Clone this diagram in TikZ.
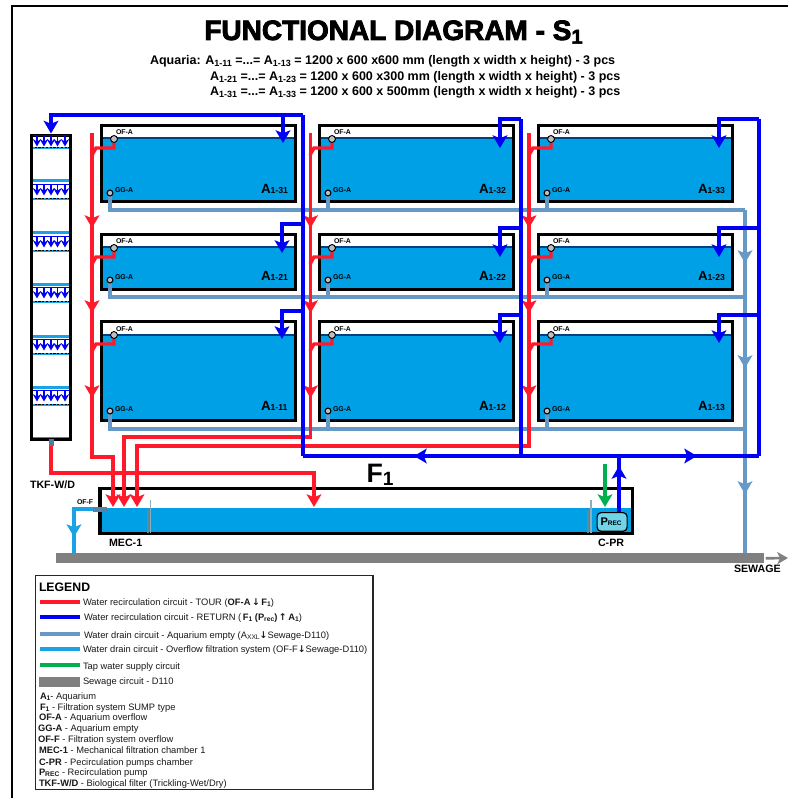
\documentclass[tikz,border=0pt]{standalone}
\usepackage{fontspec}
\setmainfont{Liberation Sans}
\newfontfamily\titlef[FakeBold=3]{Liberation Sans Bold}
\newfontfamily\arrowf{DejaVu Sans}
\usetikzlibrary{arrows.meta,calc}
\definecolor{pipered}{HTML}{FF1A2B}
\definecolor{pipeblue}{HTML}{0000F5}
\definecolor{pipedrain}{HTML}{6699C6}
\definecolor{pipecyan}{HTML}{1AA3E4}
\definecolor{pipegreen}{HTML}{00B04F}
\definecolor{water}{HTML}{00A0E6}
\definecolor{surface}{HTML}{003F80}
\definecolor{sewer}{HTML}{808080}
\definecolor{baffle}{HTML}{5E8C9E}
\definecolor{pumpfill}{HTML}{70D5E8}
\pgfdeclarelayer{tankL}\pgfdeclarelayer{drainL}\pgfdeclarelayer{redL}\pgfdeclarelayer{blueL}
\pgfsetlayers{tankL,drainL,redL,blueL,main}
\newcommand\subs[1]{\raisebox{-0.25ex}{\scalebox{0.72}{#1}}}
\newcommand\fs[1]{\fontsize{#1}{#1}\selectfont}
\newcommand\dn{{\arrowf\textbf{↓}}}
\newcommand\up{{\arrowf\textbf{↑}}}
\tikzset{
  tankbox/.style={draw=black,line width=2.4pt,inner sep=0,outer sep=0,anchor=north west},
  bigtip/.style={-{Stealth[length=9.5pt,width=11pt,inset=2.2pt]}},
  redpipe/.style={draw=pipered,line width=2.6pt},
  bluepipe/.style={draw=pipeblue,line width=2.6pt},
  drainpipe/.style={draw=pipedrain,line width=2.3pt},
  cyanpipe/.style={draw=pipecyan,line width=2.3pt},
  ofdot/.style={circle,draw=black,fill=black!25,line width=0.7pt,minimum size=5.2pt,inner sep=0},
  ggdot/.style={circle,draw=black,fill=black!25,line width=0.8pt,minimum size=4.4pt,inner sep=0},
  txt/.style={anchor=base west,inner sep=0,outer sep=0,text=black},
  ctxt/.style={anchor=base,inner sep=0,outer sep=0,text=black},
  legline/.style={line width=2.4pt},
  smallarrow/.style={draw=pipeblue,line width=1.2pt,-{Stealth[length=5.5pt,width=6.2pt,inset=1.8pt]}},
}
\begin{document}
\begin{tikzpicture}[x=0.75pt,y=-0.75pt]
\useasboundingbox (0,0) rectangle (788,798);
% frame
\draw[black,line width=1.5pt] (788,6) -- (11.5,6) -- (11.5,798);
% title
\node[ctxt] (title) at (393.5,40) {\titlef\fs{21}FUNCTIONAL DIAGRAM - S\subs{1}};
\node[txt] (sub1) at (150,65) {\fs{9.38}\textbf{Aquaria: A\subs{1-11} =...= A\subs{1-13} = 1200 x 600 x600 mm (length x width x height) - 3 pcs}};
\node[txt] (sub2) at (210,81) {\fs{9.38}\textbf{A\subs{1-21} =...= A\subs{1-23} = 1200 x 600 x300 mm (length x width x height) - 3 pcs}};
\node[txt] (sub3) at (210,96) {\fs{9.38}\textbf{A\subs{1-31} =...= A\subs{1-33} = 1200 x 600 x 500mm (length x width x height) - 3 pcs}};
% tanks
\foreach \r/\yt/\yb/\yw/\yo/\yg/\yl in {3/124/203/138/139/193/194,2/233/291/247/248/280/281,1/320/422/334/335/411/410}{
 \foreach \c/\xl in {1/100,2/318,3/537}{
  \pgfmathsetmacro\hh{(\yb-\yt-3)*0.75}
  \begin{pgfonlayer}{tankL}
   \fill[water] (\xl+2,\yw) rectangle (\xl+196,\yb-2);
   \draw[surface,line width=1.5pt] (\xl+2,\yw+0.5) -- (\xl+196,\yw+0.5);
   \node[tankbox,minimum width=145.5pt,minimum height=\hh pt] (tank\r\c) at (\xl+1.5,\yt+1.5) {};
  \end{pgfonlayer}
  \node[ofdot] (of\r\c) at (\xl+14,\yo) {};
  \node[ggdot] (gg\r\c) at (\xl+10,\yg) {};
  \node[txt] (oft\r\c) at (\xl+16,\yo-4) {\fs{5.2}\textbf{OF-A}};
  \node[txt] (ggt\r\c) at (\xl+15,\yg) {\fs{5.2}\textbf{GG-A}};
  \node[txt] (lab\r\c) at (\xl+161,\yl) {\fs{10}\textbf{A}\fs{6.5}\textbf{1-\r\c}};
  \begin{pgfonlayer}{redL}
   \draw[redpipe,line join=miter] (of\r\c.center) -- ++(0,9) -- (\xl-4,\yo+9) -- (\xl-8,\yo+16);
  \end{pgfonlayer}
 }
}
% drain
\coordinate (drain3) at (745,210);
\coordinate (drain2) at (745,297);
\coordinate (drain1) at (745,429);
\coordinate (sewin) at (745,553);
\begin{pgfonlayer}{drainL}
 \foreach \r in {3,2,1}{\foreach \c in {1,2,3}{\draw[drainpipe] (gg\r\c.center) |- (drain\r);}}
 \draw[drainpipe] (drain3) -- (sewin);
\end{pgfonlayer}
\foreach \t in {263,368,494}{
 \begin{pgfonlayer}{blueL}\draw[drainpipe,bigtip] (745,\t-12) -- (745,\t);\end{pgfonlayer}}
% TKF
\begin{pgfonlayer}{tankL}
 \fill[water] (31,437) rectangle (71,441);
 \foreach \ya/\yb in {181/199,233/251,284/302,336/354,387/405}{
  \fill[pipecyan] (31,\ya-1.5) rectangle (71,\ya+1.5);
  \draw[pipecyan,line width=1.5pt] (31,\yb) -- (71,\yb);
  \draw[black,line width=1.2pt,dash pattern=on 1.6pt off 1.2pt] (31,\yb-0.6) -- (71,\yb-0.6);
 }
 \draw[pipecyan,line width=1.5pt] (31,148) -- (71,148);
 \draw[black,line width=1.2pt,dash pattern=on 1.6pt off 1.2pt] (31,147.4) -- (71,147.4);
 \node[tankbox,line width=2pt,minimum width=29.5pt,minimum height=228pt] (tkf) at (31.3,135.3) {};
\end{pgfonlayer}
\foreach \yt in {135,184,236,287,339,390}{
 \foreach \x in {37,44,51,57.5,65}{\draw[smallarrow] (\x,\yt) -- (\x,\yt+11.5);}
 \draw[pipeblue,line width=0.8pt] (33,\yt+0.5) -- (69,\yt+0.5);
}
\fill[pipedrain!80!black] (49,439) rectangle (54,446);
% sump
\begin{pgfonlayer}{tankL}
 \fill[water] (100,508) rectangle (631,534);
 \node[tankbox,minimum width=399.5pt,minimum height=34pt] (sump) at (100,488.5) {};
 \draw[baffle,line width=0.9pt] (148,510) -- (148,533);
 \draw[baffle!70!white,line width=1pt] (150.5,500) -- (150.5,533);
 \draw[baffle,line width=0.9pt] (588,510) -- (588,533);
 \draw[baffle!70!white,line width=1pt] (591,500) -- (591,533);
\end{pgfonlayer}
\node[draw=black,fill=pumpfill,rounded corners=3pt,line width=0.9pt,minimum width=22.5pt,minimum height=14pt,inner sep=0,anchor=north west] (pump) at (596.5,512) {};
\node[txt] (pumpt) at (600.5,525.5) {\fs{8.3}\textbf{P}\fs{4.9}\textbf{REC}};
% labels
\node[ctxt] (f1) at (380,482) {\fs{20}\textbf{F\subs{1}}};
\node[txt] (ltkf) at (30,488.5) {\fs{8}\textbf{TKF-W/D}};
\node[txt] (lmec) at (109,546.5) {\fs{8}\textbf{MEC-1}};
\node[txt] (lcpr) at (598,546.5) {\fs{8}\textbf{C-PR}};
\node[txt] (lsew) at (734,572.5) {\fs{8}\textbf{SEWAGE}};
\node[txt] (lof) at (77,504) {\fs{5.2}\textbf{OF-F}};
% sewage bar
\node[fill=sewer,minimum width=531pt,minimum height=7.5pt,inner sep=0,anchor=north west] (sewage) at (56,553) {};
\coordinate (sewend) at (788,558);
\draw[sewer,line width=2pt,-{Stealth[length=8pt,width=9pt,inset=2pt]}] (sewage.east) ++(1,0) -- (sewend);
% overflow
\coordinate (ofout) at (93,509);
\coordinate (ofturn) at (74,509);
\coordinate (ofbar) at (74,553);
\coordinate (oftip) at (74,537);
\draw[cyanpipe] (ofout) -- (ofturn) -- (ofbar);
\draw[cyanpipe,bigtip] (74,525) -- (oftip);
\fill[pipedrain!85!black] (93,507) rectangle (107,511.5);
% red
\begin{pgfonlayer}{redL}
 \foreach \x in {92,310.5,529}{
  \foreach \t in {228,313,398}{\draw[redpipe,bigtip] (\x,\t-12) -- (\x,\t);}
 }
 \coordinate (inA) at (113,507);
 \coordinate (inB) at (124,507);
 \coordinate (inC) at (137,507);
 \coordinate (inD) at (314,507);
 \draw[redpipe,bigtip] (92,133) |- (113,457) -- (inA);
 \draw[redpipe,bigtip] (310.5,133) |- (124,437) -- (inB);
 \draw[redpipe,bigtip] (529,133) |- (137,446) -- (inC);
 \draw[redpipe,bigtip] (51,443) |- (314,473) -- (inD);
\end{pgfonlayer}
% blue
\begin{pgfonlayer}{blueL}
 \coordinate (pumpout) at (619,512);
 \coordinate (busT) at (619,456);
 \draw[bluepipe] (pump.north -| pumpout) -- (busT);
 \draw[bluepipe,bigtip] (619,477) -- (619,466);
 \draw[bluepipe] (303,456) -- (759,456);
 \draw[bluepipe,bigtip] (680,456) -- (697,456);
 \draw[bluepipe,bigtip] (430,456) -- (414,456);
 \draw[bluepipe] (303,456) -- (303,115);
 \draw[bluepipe] (521,456) -- (521,119);
 \draw[bluepipe] (759,456) -- (759,119);
 \draw[bluepipe,bigtip] (303,115) -| (51,133.5);
 \draw[bluepipe,bigtip] (283,115) -- (283,143);
 \draw[bluepipe,bigtip] (303,224) -| (282,253);
 \draw[bluepipe,bigtip] (303,311) -| (282,339);
 \foreach \rx/\tx in {521/500,759/719}{
  \draw[bluepipe,bigtip] (\rx,119) -| (\tx,148);
  \draw[bluepipe,bigtip] (\rx,228) -| (\tx,257);
  \draw[bluepipe,bigtip] (\rx,315) -| (\tx,343);
 }
\end{pgfonlayer}
% green
\coordinate (tapin) at (605,464);
\coordinate (tapout) at (605,507);
\draw[draw=pipegreen,line width=2.6pt,bigtip] (tapin) -- (tapout);
% legend
\node[draw=black!85,line width=1.1pt,fill=white,minimum width=253pt,minimum height=160.5pt,inner sep=0,outer sep=0,anchor=north west] (legend) at (35.5,575.5) {};
\node[txt] (legt) at (39,591) {\fs{9.2}\textbf{LEGEND}};
\draw[pipered,legline] (40,602) -- (80,602);
\draw[pipeblue,legline] (40,617) -- (80,617);
\draw[pipedrain,line width=3pt] (40,634) -- (80,634);
\draw[pipecyan,legline] (40,649) -- (80,649);
\draw[pipegreen,legline] (40,665) -- (80,665);
\fill[sewer] (39,677) rectangle (80,687);
\tikzset{leg/.style={txt,text=black!90}}
\node[leg] (l1) at (83,605) {\fs{7}Water recirculation circuit - TOUR (\textbf{OF-A}\,\dn\,\textbf{F\subs{1}})};
\node[leg] (l2) at (84,620) {\fs{7}Water recirculation circuit - RETURN (\,\textbf{F\subs{1} (P\subs{rec})}\,\up\,\textbf{A\subs{1}})};
\node[leg] (l3) at (84,638) {\fs{7}Water drain circuit - Aquarium empty (A\subs{XXL}\dn Sewage-D110)};
\node[leg] (l4) at (83,652) {\fs{7}Water drain circuit - Overflow filtration system (OF-F\dn Sewage-D110)};
\node[leg] (l5) at (83,669) {\fs{7}Tap water supply circuit};
\node[leg] (l6) at (83,684) {\fs{7}Sewage circuit - D110};
\node[leg] (l7) at (40,699) {\fs{7}\textbf{A\subs{1}}- Aquarium};
\node[leg] (l8) at (40,710) {\fs{7}\textbf{F\subs{1}} - Filtration system SUMP type};
\node[leg] (l9) at (39,720) {\fs{7}\textbf{OF-A} - Aquarium overflow};
\node[leg] (l10) at (38,731) {\fs{7}\textbf{GG-A} - Aquarium empty};
\node[leg] (l11) at (38,742) {\fs{7}\textbf{OF-F} - Filtration system overflow};
\node[leg] (l12) at (39,753) {\fs{7}\textbf{MEC-1} - Mechanical filtration chamber 1};
\node[leg] (l13) at (39,765) {\fs{7}\textbf{C-PR} - Pecirculation pumps chamber};
\node[leg] (l14) at (39,775) {\fs{7}\textbf{P\subs{REC}} - Recirculation pump};
\node[leg] (l15) at (39,786) {\fs{7}\textbf{TKF-W/D} - Biological filter (Trickling-Wet/Dry)};
\end{tikzpicture}
\end{document}
